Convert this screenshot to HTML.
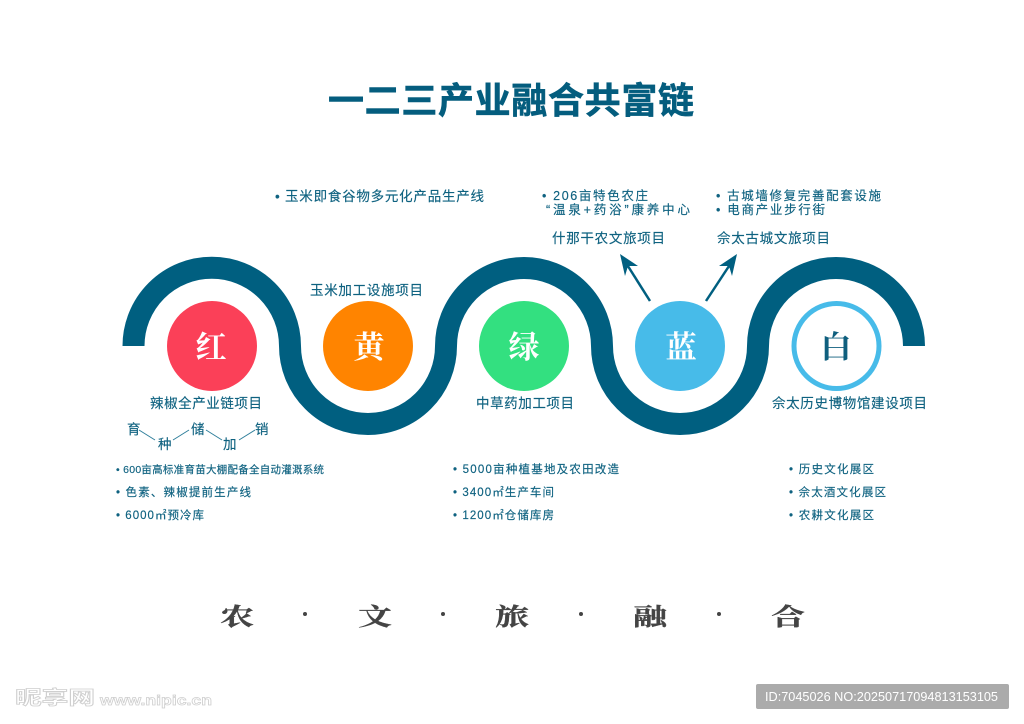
<!DOCTYPE html>
<html lang="zh"><head><meta charset="utf-8"><title>一二三产业融合共富链</title>
<style>
html,body{margin:0;padding:0;background:#fff;width:1024px;height:724px;overflow:hidden}
svg{display:block}
text{font-family:"Liberation Sans","Noto Sans CJK SC",sans-serif;fill:#0f6280}
.s{font-size:13.5px;text-anchor:start;stroke:#0f6280;stroke-width:.15px}
.u{font-size:12.5px}
.t{font-size:11.5px;stroke:#0f6280;stroke-width:.15px}
.c{font-family:"Liberation Serif","Noto Serif CJK SC",serif;font-size:31px;font-weight:700;fill:#fff;text-anchor:middle}
.f{font-family:"Liberation Serif","Noto Serif CJK SC",serif;font-size:24px;font-weight:700;fill:#444;stroke:#444;stroke-width:.3px}
</style></head><body>
<svg width="1024" height="724" viewBox="0 0 1024 724" xmlns="http://www.w3.org/2000/svg">
<rect width="1024" height="724" fill="#fff"/>
<text x="328" y="113" font-size="36" font-weight="700" textLength="366" lengthAdjust="spacing" style="fill:#045d7e;stroke:#045d7e;stroke-width:.6px">一二三产业融合共富链</text>

<path d="M133.500 346A78.250 78.250 0 0 1 290 346A78 78 0 0 0 446 346A78 78 0 0 1 602 346A78 78 0 0 0 758 346A78 78 0 0 1 914 346" fill="none" stroke="#005f80" stroke-width="22"/>

<circle cx="212" cy="346" r="45" fill="#fb4058"/>
<circle cx="368" cy="346" r="45" fill="#ff8400"/>
<circle cx="524" cy="346" r="45" fill="#33e080"/>
<circle cx="680" cy="346" r="45" fill="#47bbe9"/>
<circle cx="836.500" cy="346" r="42.500" fill="#fff" stroke="#47bbe9" stroke-width="5"/>
<text class="c" x="211" y="358">红</text>
<text class="c" x="369" y="358">黄</text>
<text class="c" x="524" y="358">绿</text>
<text class="c" x="681" y="358">蓝</text>
<text class="c" x="836" y="358" style="fill:#0f5f7e">白</text>

<text class="s" x="150" y="408" textLength="112">辣椒全产业链项目</text>
<text class="s" x="310" y="295" textLength="113">玉米加工设施项目</text>
<text class="s" x="476" y="408" textLength="98">中草药加工项目</text>
<text class="s" x="772" y="408" textLength="155">佘太历史博物馆建设项目</text>
<text class="s" x="552" y="243" textLength="113">什那干农文旅项目</text>
<text class="s" x="717" y="243" textLength="113">佘太古城文旅项目</text>

<text class="s" x="275" y="201" textLength="209">• 玉米即食谷物多元化产品生产线</text>
<text class="s u" x="542" y="200" textLength="106">• 206亩特色农庄</text>
<text class="s u" x="546" y="214" textLength="144">“温泉+药浴”康养中心</text>
<text class="s u" x="716" y="200" textLength="165">• 古城墙修复完善配套设施</text>
<text class="s u" x="716" y="214" textLength="109">• 电商产业步行街</text>

<text class="s" x="127" y="434">育</text>
<text class="s" x="158" y="449">种</text>
<text class="s" x="191" y="434">储</text>
<text class="s" x="223" y="449">加</text>
<text class="s" x="255" y="434">销</text>
<path d="M139 430L155 440M173 440L189 430M206 430L222 440M239 440L255 430" stroke="#2f7f9b" stroke-width="1" fill="none"/>

<text class="t" x="116" y="473" textLength="208" style="font-size:10.5px">• 600亩高标准育苗大棚配备全自动灌溉系统</text>
<text class="t" x="116" y="496" textLength="135">• 色素、辣椒提前生产线</text>
<text class="t" x="116" y="519" textLength="88">• 6000㎡预冷库</text>
<text class="t" x="453" y="473" textLength="166">• 5000亩种植基地及农田改造</text>
<text class="t" x="453" y="496" textLength="101">• 3400㎡生产车间</text>
<text class="t" x="453" y="519" textLength="101">• 1200㎡仓储库房</text>
<text class="t" x="789" y="473" textLength="85">• 历史文化展区</text>
<text class="t" x="789" y="496" textLength="97">• 佘太酒文化展区</text>
<text class="t" x="789" y="519" textLength="85">• 农耕文化展区</text>

<path d="M650 301L626 263" stroke="#005f80" stroke-width="2.500"/>
<path d="M620 254L638 266L628 266L625 276Z" fill="#005f80"/>
<path d="M706 301L731 263" stroke="#005f80" stroke-width="2.500"/>
<path d="M737 254L719 266L729 266L732 276Z" fill="#005f80"/>

<text class="f" x="220" y="625" textLength="34" lengthAdjust="spacingAndGlyphs">农</text>
<circle cx="305" cy="614" r="2" fill="#444"/>
<text class="f" x="358" y="625" textLength="34" lengthAdjust="spacingAndGlyphs">文</text>
<circle cx="443" cy="614" r="2" fill="#444"/>
<text class="f" x="495" y="625" textLength="34" lengthAdjust="spacingAndGlyphs">旅</text>
<circle cx="581" cy="614" r="2" fill="#444"/>
<text class="f" x="633" y="625" textLength="34" lengthAdjust="spacingAndGlyphs">融</text>
<circle cx="719" cy="614" r="2" fill="#444"/>
<text class="f" x="771" y="625" textLength="34" lengthAdjust="spacingAndGlyphs">合</text>

<text x="15" y="704" font-size="19" font-weight="700" textLength="80" lengthAdjust="spacingAndGlyphs" style="fill:#fff;stroke:#cfcfcf;stroke-width:.8px">昵享网</text>
<text x="100" y="705" font-size="14" font-weight="700" textLength="112" lengthAdjust="spacingAndGlyphs" style="fill:#fff;stroke:#cfcfcf;stroke-width:.7px">www.nipic.cn</text>

<rect x="756" y="684" width="253" height="25" rx="2" fill="#ababab"/>
<text x="765" y="701" font-size="13" textLength="233" lengthAdjust="spacingAndGlyphs" style="fill:#fff">ID:7045026 NO:20250717094813153105</text>
</svg>
</body></html>
